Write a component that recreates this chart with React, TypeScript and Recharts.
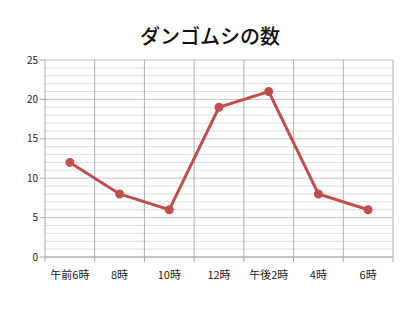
import { LineChart, Line, XAxis, YAxis, CartesianGrid, ReferenceLine } from 'recharts';

const times = ['午前6時', '8時', '10時', '12時', '午後2時', '4時', '6時'];
const counts = [12, 8, 6, 19, 21, 8, 6];
const majorTicks = [0, 5, 10, 15, 20, 25];
const minorTicks = Array.from({ length: 26 }, (_, i) => i).filter((v) => v % 5 !== 0);
const slotEdges = [0, 1, 2, 3, 4, 5, 6, 7];
const slotCenters = times.map((_, i) => i + 0.5);

const data = times.map((t, i) => ({ x: i + 0.5, time: t, count: counts[i] }));

const font = '"Noto Sans CJK JP", "Noto Sans", sans-serif';

const EmptyTick = () => <g />;

export default function App() {
  return (
    <div style={{ position: 'absolute', left: 0, top: 0, width: 420, height: 315, background: '#fff', fontFamily: font }}>
      <div style={{ position: 'absolute', top: 21, width: 420, textAlign: 'center', fontSize: 20, fontWeight: 500, color: '#111' }}>
        ダンゴムシの数
      </div>
      <LineChart width={420} height={315} data={data} margin={{ top: 60, right: 27, bottom: 31, left: 0 }}>
        <CartesianGrid yAxisId="main" xAxisId="edges" vertical={false} stroke="#c4c4c4" />
        {minorTicks.map((v) => (
          <ReferenceLine key={'m' + v} yAxisId="main" xAxisId="edges" y={v} stroke="#dedede" />
        ))}
        {slotEdges.slice(1).map((v) => (
          <ReferenceLine key={'e' + v} yAxisId="main" xAxisId="edges" x={v} stroke="#b0b0b0" />
        ))}
        <XAxis
          xAxisId="edges"
          type="number"
          dataKey="x"
          domain={[0, 7]}
          ticks={slotEdges}
          tick={EmptyTick}
          tickSize={5}
          height={6}
          stroke="#a8a8a8"
          interval={0}
        />
        <XAxis
          xAxisId="labels"
          type="number"
          dataKey="x"
          domain={[0, 7]}
          ticks={slotCenters}
          interval={0}
          axisLine={false}
          tickLine={false}
          height={21}
          tickFormatter={(v: number) => times[Math.round(v - 0.5)]}
          tick={{ fontSize: 11, fill: '#222', fontFamily: font }}
        />
        <YAxis
          yAxisId="main"
          domain={[0, 25]}
          ticks={majorTicks}
          interval={0}
          width={45}
          tickSize={5}
          stroke="#a8a8a8"
          tick={{ fontSize: 10, fill: '#222', fontFamily: font }}
        />
        <Line
          xAxisId="labels"
          yAxisId="main"
          dataKey="count"
          stroke="#c0504d"
          strokeWidth={3}
          dot={{ r: 3, fill: '#c0504d', stroke: '#c0504d' }}
          isAnimationActive={false}
        />
      </LineChart>
    </div>
  );
}
